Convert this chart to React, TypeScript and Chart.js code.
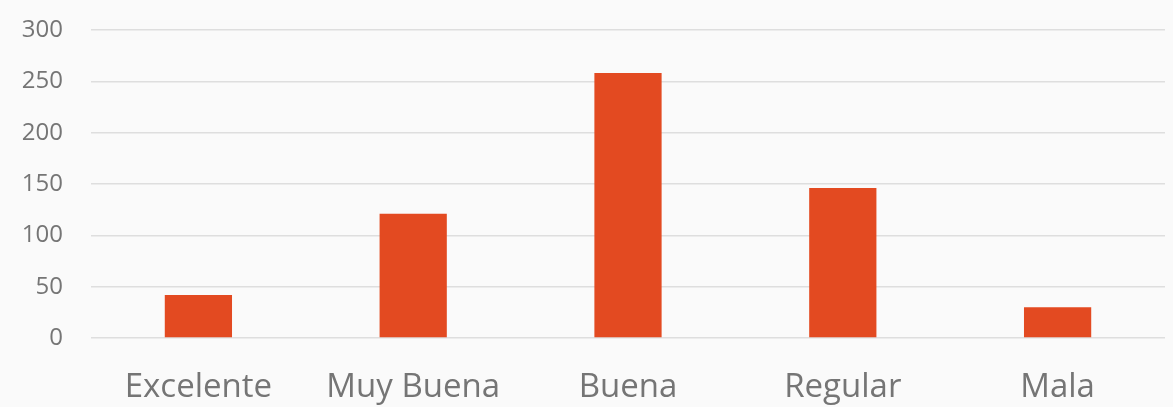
import React, { useEffect, useRef } from "react";
import { Chart, registerables } from "chart.js";

Chart.register(...registerables);

const categories = ["Excelente", "Muy Buena", "Buena", "Regular", "Mala"];
const values = [42, 121, 258, 146, 30];
const yMin = 0;
const yMax = 300;
const yStep = 50;

const W = 1173;
const H = 407;

export default function App() {
  const ref = useRef<HTMLCanvasElement | null>(null);

  useEffect(() => {
    document.body.style.margin = "0";
    const ctx = ref.current!;
    const chart = new Chart(ctx, {
      type: "bar",
      data: {
        labels: categories,
        datasets: [
          {
            data: values,
            backgroundColor: "#E34A21",
            borderWidth: 0,
            categoryPercentage: 1,
            barPercentage: 0.313,
          },
        ],
      },
      options: {
        responsive: false,
        animation: false,
        maintainAspectRatio: false,
        layout: { padding: { top: 30, right: 8, left: 0, bottom: 0 } },
        plugins: {
          legend: { display: false },
          tooltip: { enabled: false },
        },
        scales: {
          x: {
            grid: { display: false, drawTicks: false },
            border: { display: false },
            ticks: {
              color: "#757575",
              font: { family: "'Open Sans'", size: 33 },
              padding: 30,
              maxRotation: 0,
              autoSkip: false,
            },
            afterFit: (scale: any) => {
              scale.height = 69;
            },
          },
          y: {
            min: yMin,
            max: yMax,
            grid: { color: "#dedede", lineWidth: 1.5, drawTicks: false },
            border: { display: false },
            ticks: {
              stepSize: yStep,
              color: "#757575",
              font: { family: "'Open Sans'", size: 24 },
              padding: 28,
            },
            afterFit: (scale: any) => {
              scale.width = 91;
              scale.paddingTop = 14;
              scale.paddingBottom = 14;
            },
          },
        },
      },
    });
    return () => chart.destroy();
  }, []);

  return (
    <div style={{ width: W, height: H, background: "#fafafa" }}>
      <canvas ref={ref} width={W} height={H} style={{ display: "block" }} />
    </div>
  );
}
